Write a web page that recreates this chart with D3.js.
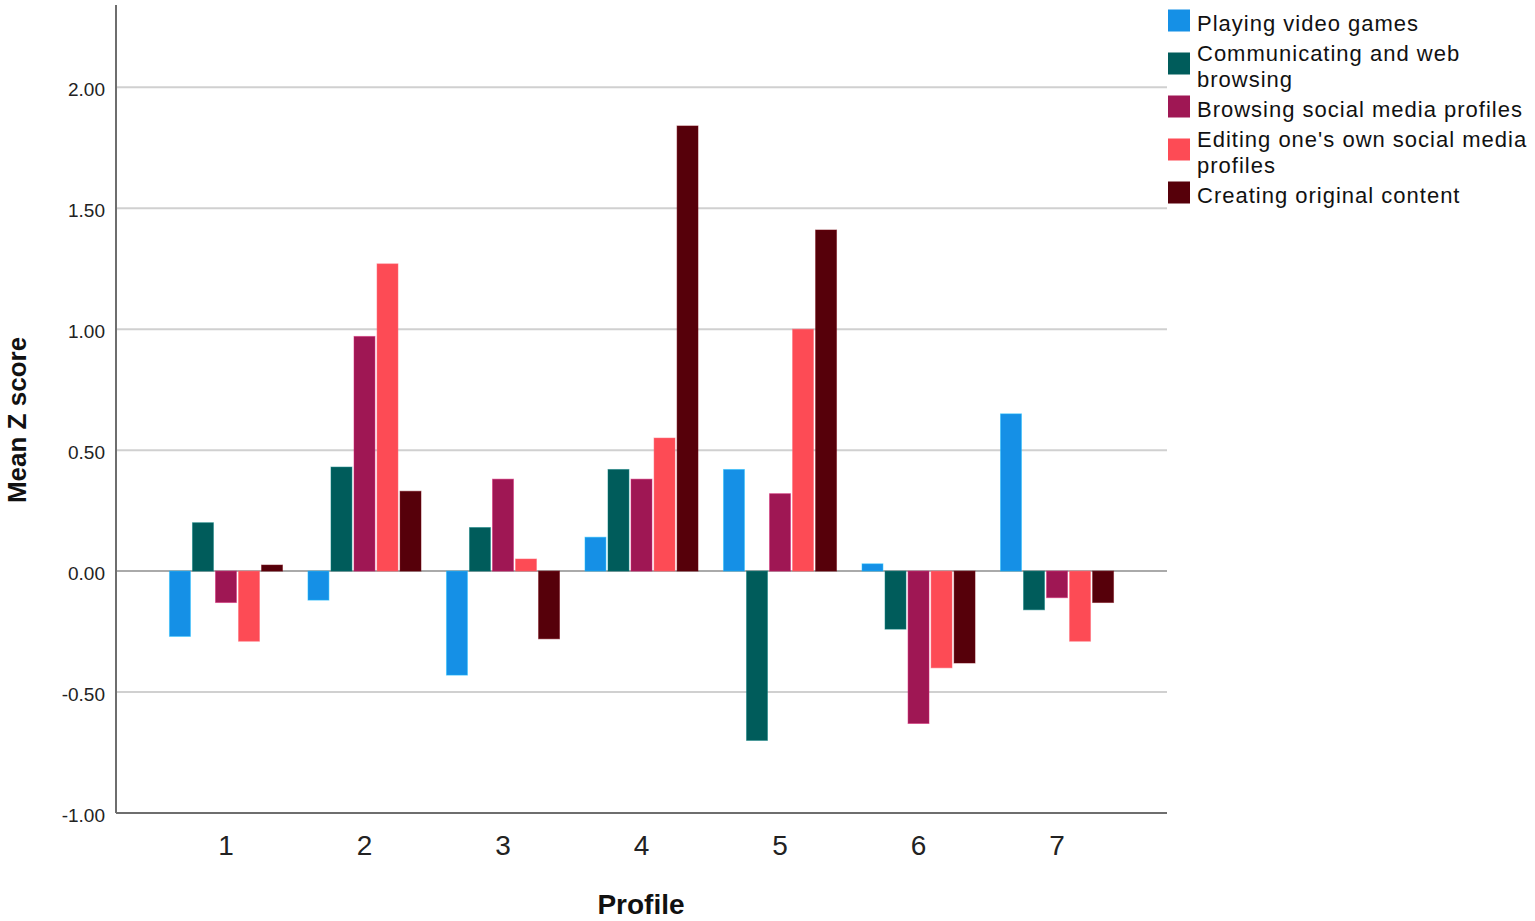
<!DOCTYPE html>
<html>
<head>
<meta charset="utf-8">
<script src="https://cdn.jsdelivr.net/npm/d3@7"></script>
<style>
  body { margin: 0; background: #fff; }
  svg { display: block; font-family: "Liberation Sans", Arial, sans-serif; }
</style>
</head>
<body>
<svg id="chart" width="1535" height="921"></svg>
<script>
// profiles on the x axis
var profiles = ["1", "2", "3", "4", "5", "6", "7"];

// legend entries (line breaks as in the picture)
var seriesNames = [
    ["Playing video games"],
    ["Communicating and web", "browsing"],
    ["Browsing social media profiles"],
    ["Editing one's own social media", "profiles"],
    ["Creating original content"]
];
var seriesColors = ["#1590e6", "#005c5b", "#9f1754", "#fd4b55", "#56000a"];

// mean z scores, one array per series, in profile order
var videoGames   = [-0.27, -0.12, -0.43, 0.14,  0.42,  0.03,  0.65];
var webBrowsing  = [ 0.20,  0.43,  0.18, 0.42, -0.70, -0.24, -0.16];
var socialBrowse = [-0.13,  0.97,  0.38, 0.38,  0.32, -0.63, -0.11];
var socialEdit   = [-0.29,  1.27,  0.05, 0.55,  1.00, -0.40, -0.29];
var creating     = [ 0.025, 0.33, -0.28, 1.84,  1.41, -0.38, -0.13];
var seriesValues = [videoGames, webBrowsing, socialBrowse, socialEdit, creating];

var yTicks = [-1, -0.5, 0, 0.5, 1, 1.5, 2];

var svg = d3.select("#chart");
var plotLeft = 116, plotRight = 1167, plotTop = 5, plotBottom = 813;

var x = d3.scaleBand().domain(profiles).range([plotLeft, plotRight])
    .paddingInner(0.184).paddingOuter(0.386);
var xs = d3.scaleBand().domain(d3.range(seriesNames.length)).range([0, x.bandwidth()])
    .paddingInner(0.09);
var y = d3.scaleLinear().domain([-1, 2.34]).range([plotBottom, plotTop]);

// SPSS style labels with a plain hyphen
var fmt = d3.formatLocale({ decimal: ".", thousands: ",", grouping: [3], currency: ["", ""], minus: "-" }).format(".2f");

// gridlines
svg.append("g").selectAll("line")
    .data(yTicks.filter(d => d != -1))
    .enter().append("line")
    .attr("x1", plotLeft).attr("x2", plotRight)
    .attr("y1", d => y(d)).attr("y2", d => y(d))
    .attr("stroke", d => d == 0 ? "#aaaaaa" : "#d0d0d0")
    .attr("stroke-width", 2);

// y labels
svg.append("g").selectAll("text")
    .data(yTicks)
    .enter().append("text")
    .attr("x", plotLeft - 11)
    .attr("y", d => y(d) + 9)
    .attr("text-anchor", "end")
    .attr("font-size", 19)
    .attr("fill", "#222")
    .text(d => fmt(d));

// bars
var rows = [];
profiles.forEach(function(p, i) {
    seriesValues.forEach(function(vals, s) {
        rows.push({ profile: p, series: s, value: vals[i] });
    });
});

svg.append("g").selectAll("rect")
    .data(rows)
    .enter().append("rect")
    .attr("x", d => x(d.profile) + xs(d.series))
    .attr("width", xs.bandwidth())
    .attr("y", d => y(Math.max(0, d.value)))
    .attr("height", d => Math.abs(y(d.value) - y(0)))
    .attr("fill", d => seriesColors[d.series])
    .attr("stroke", d => d3.color(seriesColors[d.series]).brighter(0.8))
    .attr("stroke-opacity", 0.5)
    .attr("stroke-width", 1);

// axis lines
svg.append("line")
    .attr("x1", plotLeft).attr("x2", plotLeft).attr("y1", plotTop).attr("y2", plotBottom)
    .attr("stroke", "#6e6e6e").attr("stroke-width", 2);
svg.append("line")
    .attr("x1", plotLeft).attr("x2", plotRight).attr("y1", plotBottom).attr("y2", plotBottom)
    .attr("stroke", "#6e6e6e").attr("stroke-width", 2);

// x labels
svg.append("g").selectAll("text")
    .data(profiles)
    .enter().append("text")
    .attr("x", d => x(d) + x.bandwidth() / 2)
    .attr("y", 855)
    .attr("text-anchor", "middle")
    .attr("font-size", 28)
    .attr("fill", "#222")
    .text(d => d);

// axis titles
svg.append("text")
    .attr("x", 641)
    .attr("y", 914)
    .attr("text-anchor", "middle")
    .attr("font-size", 28)
    .attr("font-weight", "bold")
    .attr("fill", "#111")
    .text("Profile");

svg.append("text")
    .attr("transform", "translate(26, 420) rotate(-90)")
    .attr("text-anchor", "middle")
    .attr("font-size", 26)
    .attr("font-weight", "bold")
    .attr("fill", "#111")
    .text("Mean Z score");

// legend
var legend = svg.append("g");
var cursor = 23;
seriesNames.forEach(function(lines, s) {
    var mid = cursor + (lines.length - 1) * 13;
    legend.append("rect")
        .attr("x", 1168).attr("y", mid - 2.5 - 11)
        .attr("width", 22).attr("height", 22)
        .attr("fill", seriesColors[s]);
    lines.forEach(function(t, k) {
        legend.append("text")
            .attr("x", 1197)
            .attr("y", cursor + k * 26 + 8)
            .attr("font-size", 22)
            .attr("letter-spacing", 1)
            .attr("fill", "#111")
            .text(t);
    });
    cursor += (lines.length - 1) * 26 + 30;
});
</script>
</body>
</html>
